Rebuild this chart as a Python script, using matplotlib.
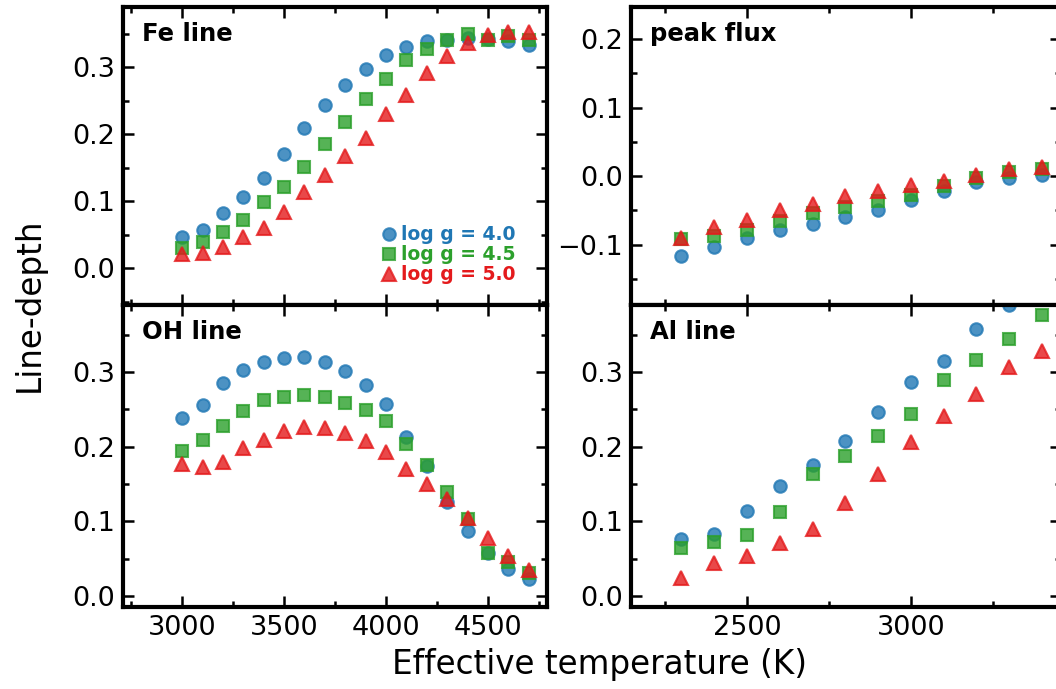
import matplotlib
matplotlib.use("Agg")
import matplotlib.pyplot as plt
from matplotlib.ticker import MultipleLocator

plt.rcParams["font.family"] = ["DejaVu Sans"]

# temperatures
teff_left = [3000, 3100, 3200, 3300, 3400, 3500, 3600, 3700, 3800,
             3900, 4000, 4100, 4200, 4300, 4400, 4500, 4600, 4700]
teff_right = [2300, 2400, 2500, 2600, 2700, 2800, 2900, 3000, 3100,
              3200, 3300, 3400]

labels = ["log g = 4.0", "log g = 4.5", "log g = 5.0"]

# Fe line
fe_40 = [0.046, 0.057, 0.082, 0.107, 0.135, 0.170, 0.209, 0.243, 0.273,
         0.298, 0.318, 0.331, 0.339, 0.341, 0.344, 0.342, 0.339, 0.333]
fe_45 = [0.030, 0.039, 0.054, 0.072, 0.099, 0.121, 0.151, 0.185, 0.218,
         0.253, 0.283, 0.311, 0.328, 0.341, 0.350, 0.340, 0.346, 0.340]
fe_50 = [0.021, 0.023, 0.032, 0.047, 0.060, 0.084, 0.113, 0.139, 0.167,
         0.195, 0.230, 0.259, 0.291, 0.317, 0.336, 0.348, 0.352, 0.352]

# OH line
oh_40 = [0.238, 0.256, 0.286, 0.303, 0.314, 0.319, 0.320, 0.314, 0.302,
         0.283, 0.257, 0.213, 0.174, 0.126, 0.087, 0.057, 0.036, 0.023]
oh_45 = [0.194, 0.209, 0.228, 0.248, 0.263, 0.267, 0.269, 0.267, 0.259,
         0.249, 0.234, 0.204, 0.175, 0.139, 0.103, 0.058, 0.045, 0.030]
oh_50 = [0.177, 0.173, 0.180, 0.198, 0.209, 0.221, 0.227, 0.225, 0.218,
         0.208, 0.193, 0.170, 0.150, 0.130, 0.104, 0.077, 0.054, 0.034]

# peak flux
pk_40 = [-0.117, -0.103, -0.090, -0.079, -0.070, -0.059, -0.050, -0.035,
         -0.022, -0.009, -0.002, 0.002]
pk_45 = [-0.091, -0.088, -0.078, -0.065, -0.054, -0.045, -0.036, -0.028,
         -0.015, -0.002, 0.006, 0.010]
pk_50 = [-0.090, -0.074, -0.064, -0.050, -0.040, -0.029, -0.021, -0.013,
         -0.007, 0.002, 0.010, 0.014]

# Al line
al_40 = [0.076, 0.083, 0.114, 0.147, 0.176, 0.208, 0.247, 0.287, 0.315,
         0.358, 0.390, 0.420]
al_45 = [0.064, 0.072, 0.082, 0.113, 0.163, 0.188, 0.214, 0.244, 0.289,
         0.316, 0.345, 0.376]
al_50 = [0.024, 0.044, 0.054, 0.071, 0.089, 0.125, 0.164, 0.206, 0.241,
         0.271, 0.307, 0.328]

colors = ["#1f77b4", "#2ca02c", "#e41a1c"]
markers = ["o", "s", "^"]
sizes = [9, 8, 9.5]

fig = plt.figure(figsize=(10.56, 6.89), dpi=100)
W, H = 1056, 689


def make_ax(x0, y_top, y_bot, w=424):
    return fig.add_axes([x0 / W, 1 - y_bot / H, w / W, (y_bot - y_top) / H])


ax_fe = make_ax(123, 7, 305)
ax_pk = make_ax(631, 7, 305, 430)
ax_oh = make_ax(123, 305, 607)
ax_al = make_ax(631, 305, 607, 430)

panels = [
    (ax_fe, teff_left, [fe_40, fe_45, fe_50], "Fe line", (-0.055, 0.39)),
    (ax_pk, teff_right, [pk_40, pk_45, pk_50], "peak flux", (-0.188, 0.247)),
    (ax_oh, teff_left, [oh_40, oh_45, oh_50], "OH line", (-0.015, 0.39)),
    (ax_al, teff_right, [al_40, al_45, al_50], "Al line", (-0.015, 0.39)),
]

for ax, x, ys, title, ylim in panels:
    for y, c, m, s, lab in zip(ys, colors, markers, sizes, labels):
        ax.plot(x, y, m, color=c, ms=s, mew=1.5, alpha=0.8, label=lab)
    ax.set_ylim(*ylim)
    ax.text(19 / ax.bbox.width, 0.95, title, transform=ax.transAxes,
            fontsize=17.5, fontweight="bold", va="top", ha="left")
    ax.yaxis.set_major_locator(MultipleLocator(0.1))
    ax.yaxis.set_minor_locator(MultipleLocator(0.05))
    ax.xaxis.set_major_locator(MultipleLocator(500))
    ax.xaxis.set_minor_locator(MultipleLocator(250))
    ax.tick_params(which="both", direction="in", top=True, right=True,
                   width=1.8, labelsize=19.5, pad=6)
    ax.tick_params(which="major", length=8)
    ax.tick_params(which="minor", length=4.5)
    for sp in ax.spines.values():
        sp.set_linewidth(3)

for ax in (ax_fe, ax_oh):
    ax.set_xlim(2710, 4790)
for ax in (ax_pk, ax_al):
    ax.set_xlim(2146, 3458)
for ax in (ax_fe, ax_pk):
    ax.tick_params(labelbottom=False)

leg = ax_fe.legend(loc="lower right", bbox_to_anchor=(0.925, 0.07),
                   frameon=False, borderpad=0, borderaxespad=0,
                   handlelength=0.8, handletextpad=0.2, labelspacing=0.05,
                   prop={"weight": "bold", "size": 13.5})
for txt, c in zip(leg.get_texts(), colors):
    txt.set_color(c)

fig.text(0.568, 0.035, "Effective temperature (K)", ha="center",
         va="center", fontsize=23.5)
fig.text(0.028, 0.557, "Line-depth", ha="center", va="center",
         rotation=90, fontsize=23.5)

fig.savefig("out.png", dpi=100)
